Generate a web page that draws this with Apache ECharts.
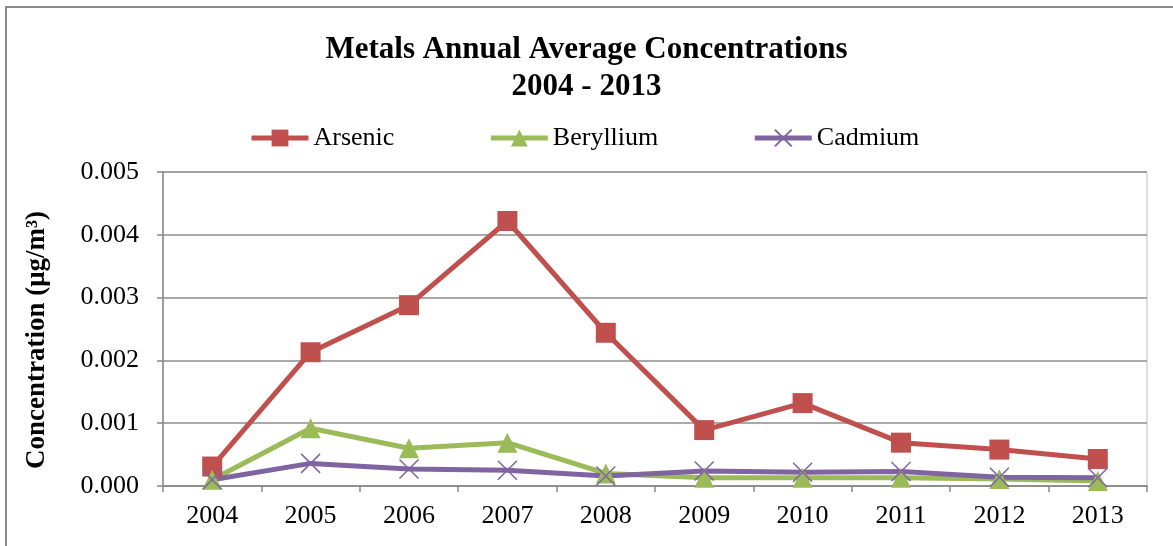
<!DOCTYPE html>
<html>
<head>
<meta charset="utf-8">
<script src="https://cdn.jsdelivr.net/npm/echarts@6/dist/echarts.min.js"></script>
<style>
  html, body { margin: 0; padding: 0; background: #ffffff; }
  #chart { width: 1173px; height: 546px; }
</style>
</head>
<body>
<div id="chart"></div>
<script>
// Annual average metal concentrations (µg/m³), 2004–2013
const years = ['2004', '2005', '2006', '2007', '2008', '2009', '2010', '2011', '2012', '2013'];
const arsenic   = [0.00031, 0.00213, 0.00288, 0.00422, 0.00244, 0.00089, 0.00132, 0.00069, 0.00058, 0.00043];
const beryllium = [0.00010, 0.00092, 0.00060, 0.00069, 0.00020, 0.00013, 0.00013, 0.00013, 0.00011, 0.00008];
const cadmium   = [0.00010, 0.00036, 0.00027, 0.00025, 0.00016, 0.00024, 0.00022, 0.00023, 0.00014, 0.00013];
const seriesNames = ['Arsenic', 'Beryllium', 'Cadmium'];

const FONT = '"Liberation Serif", "Times New Roman", serif';
const COLORS = ['#C0504D', '#9BBB59', '#8064A2'];
const CROSS = 'path://M0,0L10,10M10,0L0,10';

const chart = echarts.init(document.getElementById('chart'));

function lineSeries(name, data, color, symbol, size, extraItem) {
  return {
    name: name,
    type: 'line',
    data: data,
    symbol: symbol,
    symbolSize: size,
    showAllSymbol: true,
    lineStyle: { color: color, width: 5 },
    itemStyle: Object.assign({ color: color }, extraItem || {}),
    emphasis: { disabled: true },
    animation: false
  };
}

chart.setOption({
  backgroundColor: '#ffffff',
  animation: false,
  graphic: [{
    type: 'rect',
    shape: { x: 6, y: 7, width: 1300, height: 700 },
    style: { fill: 'none', stroke: '#898989', lineWidth: 2 },
    silent: true
  }],
  title: {
    text: 'Metals Annual Average Concentrations\n2004 - 2013',
    left: 'center',
    top: 26,
    textStyle: {
      fontFamily: FONT, fontWeight: 'bold', fontSize: 31,
      color: '#000000', lineHeight: 37
    }
  },
  legend: {
    data: seriesNames,
    left: 244,
    top: 120,
    itemWidth: 57,
    itemHeight: 21,
    itemGap: 94,
    lineStyle: { width: 5 },
    textStyle: { fontFamily: FONT, fontSize: 26, color: '#000000' }
  },
  grid: {
    left: 163, right: 26, top: 172, bottom: 60,
    show: true, borderColor: '#bfbfbf', borderWidth: 1,
    containLabel: false
  },
  xAxis: {
    type: 'category',
    data: years,
    boundaryGap: true,
    axisLine: { lineStyle: { color: '#888888', width: 1.5 } },
    axisTick: { show: true, length: 6, lineStyle: { color: '#888888', width: 1.5 } },
    axisLabel: { margin: 17, fontFamily: FONT, fontSize: 26, color: '#000000' }
  },
  yAxis: {
    type: 'value',
    min: 0, max: 0.005, interval: 0.001,
    name: 'Concentration (μg/m³)',
    nameLocation: 'middle',
    nameGap: 112,
    nameTextStyle: {
      fontFamily: FONT, fontWeight: 'bold', fontSize: 27, color: '#000000',
      padding: [0, 22, 0, 0]
    },
    axisLine: { show: true, lineStyle: { color: '#888888', width: 1.5 } },
    axisTick: { show: true, length: 6, lineStyle: { color: '#888888', width: 1.5 } },
    splitLine: { lineStyle: { color: '#8c8c8c', width: 1.5 } },
    axisLabel: {
      margin: 24, fontFamily: FONT, fontSize: 26, color: '#000000',
      formatter: v => v.toFixed(3)
    }
  },
  series: [
    lineSeries(seriesNames[0], arsenic, COLORS[0], 'rect', 20),
    lineSeries(seriesNames[1], beryllium, COLORS[1], 'triangle', 20),
    lineSeries(seriesNames[2], cadmium, COLORS[2], CROSS, 19,
      { borderColor: COLORS[2], borderWidth: 1.5 })
  ]
});
</script>
</body>
</html>
